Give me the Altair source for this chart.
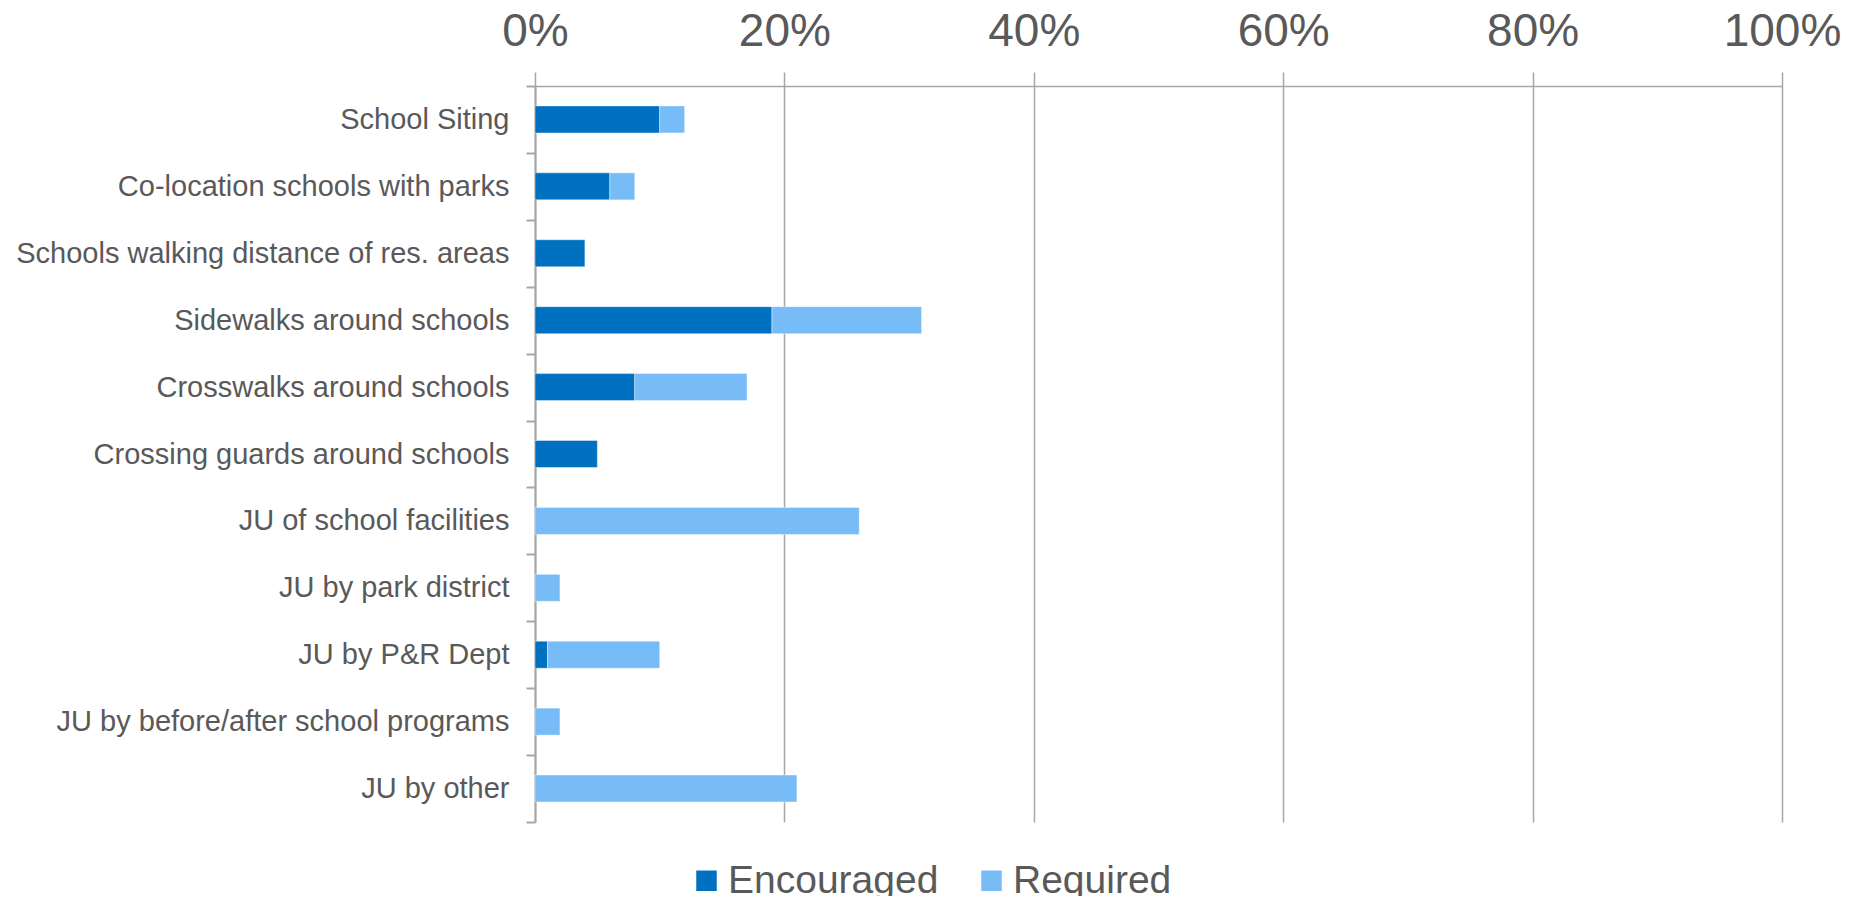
import altair as alt
import pandas as pd

categories = [
    "School Siting",
    "Co-location schools with parks",
    "Schools walking distance of res. areas",
    "Sidewalks around schools",
    "Crosswalks around schools",
    "Crossing guards around schools",
    "JU of school facilities\u00a0",
    "JU by park district",
    "JU by P&R Dept",
    "JU by before/after school programs",
    "JU by other",
]
encouraged = [0.10, 0.06, 0.04, 0.19, 0.08, 0.05, 0.0, 0.0, 0.01, 0.0, 0.0]
required = [0.02, 0.02, 0.0, 0.12, 0.09, 0.0, 0.26, 0.02, 0.09, 0.02, 0.21]
series = ["Encouraged", "Required"]
colors = ["#0070C0", "#77BCF7"]
x_ticks = [0, 0.2, 0.4, 0.6, 0.8, 1.0]

rows = []
for c, e, r in zip(categories, encouraged, required):
    rows.append({"cat": c, "series": "Encouraged", "val": e, "ord": 0})
    rows.append({"cat": c, "series": "Required", "val": r, "ord": 1})
df = pd.DataFrame(rows)
df = df[df["val"] > 0]

FONT = "Liberation Sans"
GRAY = "#A6A6A6"
TXT = "#595959"

chart = alt.Chart(df).mark_bar(size=27, stroke="#ffffff", strokeWidth=1, strokeOpacity=0.4).encode(
    y=alt.Y("cat:N", sort=categories,
            scale=alt.Scale(domain=categories, paddingInner=0, paddingOuter=0),
            axis=alt.Axis(title=None, tickBand="extent", tickSize=9, tickColor=GRAY,
                          tickWidth=2, domainColor=GRAY, domainWidth=2,
                          labelFont=FONT, labelFontSize=29, labelColor=TXT,
                          labelPadding=17, labelLimit=800, grid=False)),
    x=alt.X("val:Q", stack="zero",
            scale=alt.Scale(domain=[0, 1], nice=False),
            axis=alt.Axis(title=None, orient="top", values=x_ticks, format=".0%",
                          labelFont=FONT, labelFontSize=46, labelColor=TXT,
                          labelBaseline="alphabetic", labelPadding=27, labelFlush=False,
                          tickSize=14, tickColor=GRAY, tickWidth=1.5,
                          domainColor=GRAY, domainWidth=1.5,
                          grid=True, gridColor=GRAY, gridWidth=1.5)),
    color=alt.Color("series:N", sort=series,
                    scale=alt.Scale(domain=series, range=colors),
                    legend=alt.Legend(title=None, orient="none", direction="horizontal",
                                      legendX=152, legendY=775,
                                      symbolType="square", symbolSize=420,
                                      symbolStrokeWidth=0, symbolOpacity=1,
                                      labelFont=FONT, labelFontSize=39, labelColor=TXT,
                                      labelLimit=500,
                                      labelOffset=2, columnPadding=33, padding=0)),
    order=alt.Order("ord:Q"),
).properties(
    width=1247,
    height=736,
    autosize=alt.AutoSizeParams(type="none"),
    padding={"left": 527, "top": 78, "right": 60, "bottom": 74},
).configure_view(stroke=None)

chart.save("out.html", embed_options={"renderer": "svg", "actions": False})
